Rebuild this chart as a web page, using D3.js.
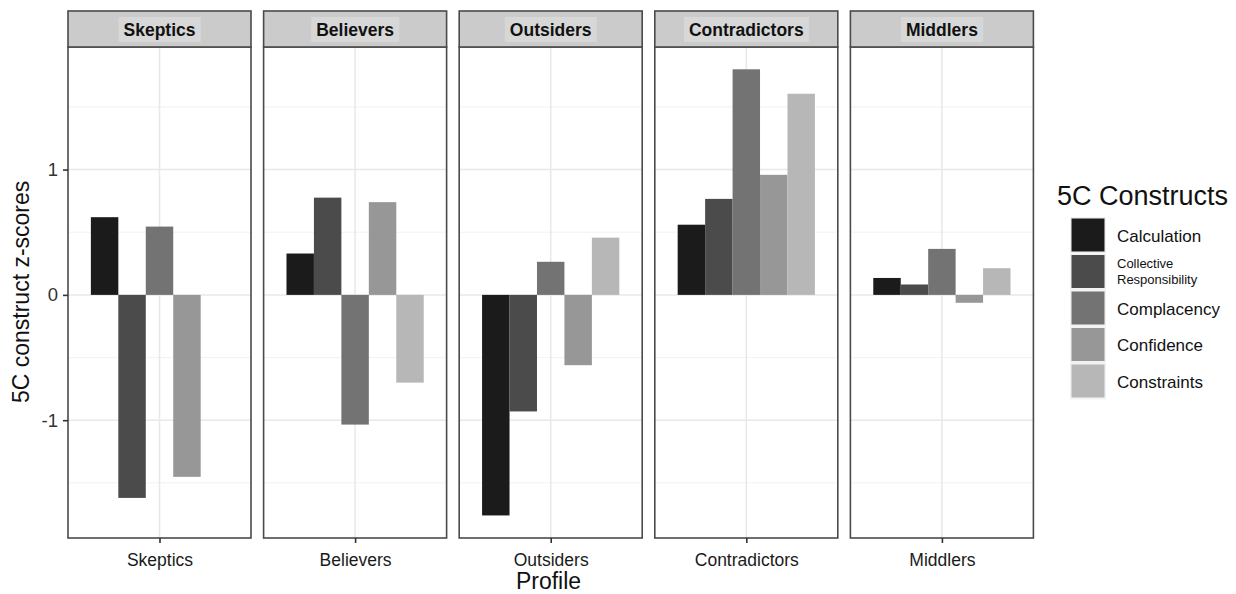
<!DOCTYPE html>
<html>
<head>
<meta charset="utf-8">
<script src="https://cdn.jsdelivr.net/npm/d3@7"></script>
<style>
  html, body { margin: 0; padding: 0; background: #ffffff; }
  svg { display: block; font-family: "Liberation Sans", Arial, sans-serif; }
</style>
</head>
<body>
<svg id="chart" width="1236" height="594"></svg>
<script>
// ---- data ----
const profiles = ["Skeptics", "Believers", "Outsiders", "Contradictors", "Middlers"];
const constructs = ["Calculation", "Collective Responsibility", "Complacency", "Confidence", "Constraints"];
const calculation = [0.62, 0.33, -1.76, 0.56, 0.135];
const collectiveResponsibility = [-1.62, 0.776, -0.93, 0.766, 0.083];
const complacency = [0.545, -1.035, 0.264, 1.80, 0.367];
const confidence = [-1.452, 0.74, -0.561, 0.958, -0.063];
const constraints = [0, -0.70, 0.457, 1.605, 0.213];
const yTicks = [-1, 0, 1];
const yMinor = [-1.5, -0.5, 0.5, 1.5];
const fillColors = ["#1b1b1b", "#4b4b4b", "#737373", "#979797", "#b7b7b7"];

const seriesValues = [calculation, collectiveResponsibility, complacency, confidence, constraints];

// ---- layout ----
const svg = d3.select("#chart");
const panelLeft0 = 68, panelStep = 195.6, panelW = 183;
const stripTop = 11, stripBottom = 47, plotBottom = 538;

const y = d3.scaleLinear().domain([-1.94, 1.978]).range([plotBottom, stripBottom]);
const panelX = d3.scaleBand().domain(profiles)
  .range([panelLeft0, panelLeft0 + panelStep * (profiles.length - 1) + panelW])
  .paddingInner((panelStep - panelW) / panelStep).paddingOuter(0).align(0);

profiles.forEach((p, i) => {
  const left = panelX(p);
  const g = svg.append("g");
  const xc = d3.scaleLinear().domain([0.4, 1.6]).range([left, left + panelW]);
  const dodge = d3.scaleBand().domain(constructs).range([xc(0.55), xc(1.45)]).padding(0);

  g.append("rect").attr("x", left).attr("y", stripBottom).attr("width", panelW)
    .attr("height", plotBottom - stripBottom).attr("fill", "#ffffff");
  g.selectAll(".minor").data(yMinor).join("line")
    .attr("x1", left).attr("x2", left + panelW)
    .attr("y1", d => y(d)).attr("y2", d => y(d))
    .attr("stroke", "#efefef").attr("stroke-width", 0.8);
  g.selectAll(".major").data(yTicks).join("line")
    .attr("x1", left).attr("x2", left + panelW)
    .attr("y1", d => y(d)).attr("y2", d => y(d))
    .attr("stroke", "#e8e8e8").attr("stroke-width", 1.5);
  g.append("line").attr("x1", xc(1)).attr("x2", xc(1))
    .attr("y1", stripBottom).attr("y2", plotBottom)
    .attr("stroke", "#e8e8e8").attr("stroke-width", 1.5);

  g.selectAll(".bar").data(constructs.map((c, k) => ({ c, k, v: seriesValues[k][i] })))
    .join("rect")
    .attr("x", d => dodge(d.c))
    .attr("width", dodge.bandwidth())
    .attr("y", d => y(Math.max(0, d.v)))
    .attr("height", d => Math.abs(y(d.v) - y(0)))
    .attr("fill", d => fillColors[d.k]);

  g.append("rect").attr("x", left).attr("y", stripBottom).attr("width", panelW)
    .attr("height", plotBottom - stripBottom)
    .attr("fill", "none").attr("stroke", "#4a4a4a").attr("stroke-width", 1.6);

  g.append("rect").attr("x", left).attr("y", stripTop).attr("width", panelW)
    .attr("height", stripBottom - stripTop)
    .attr("fill", "#cbcbcb").attr("stroke", "#4a4a4a").attr("stroke-width", 1.6);
  const label = g.append("text").attr("x", left + panelW / 2).attr("y", 35.5)
    .attr("text-anchor", "middle").attr("font-weight", "bold")
    .attr("font-size", "17.5px").attr("fill", "#111").text(p);
  const bb = label.node().getBBox();
  g.insert("rect", "text").attr("x", bb.x - 5).attr("y", 17)
    .attr("width", bb.width + 10).attr("height", 25).attr("fill", "#d7d7d7");

  const xAxis = d3.axisBottom(d3.scalePoint().domain([p]).range([xc(1), xc(1)]))
    .tickSize(5).tickPadding(6);
  const ax = g.append("g").attr("transform", `translate(0,${plotBottom})`).call(xAxis);
  ax.select(".domain").remove();
  ax.selectAll("line").attr("stroke", "#333").attr("stroke-width", 1.6);
  ax.selectAll("text").attr("font-size", "17.5px").attr("fill", "#1a1a1a")
    .attr("font-family", "Liberation Sans, Arial, sans-serif").attr("dy", "0.95em");
});

// y axis
const yAxis = d3.axisLeft(y).tickValues(yTicks).tickFormat(d => String(d)).tickSize(5).tickPadding(5);
const ya = svg.append("g").attr("transform", `translate(${panelLeft0},0)`).call(yAxis);
ya.select(".domain").remove();
ya.selectAll("line").attr("stroke", "#333").attr("stroke-width", 1.6);
ya.selectAll("text").attr("font-size", "18.5px").attr("fill", "#333")
  .attr("font-family", "Liberation Sans, Arial, sans-serif");

// axis titles
svg.append("text").attr("transform", `translate(29,${y(0) - 3}) rotate(-90)`)
  .attr("text-anchor", "middle").attr("font-size", "23px").attr("fill", "#111")
  .text("5C construct z-scores");
svg.append("text").attr("x", 548.5).attr("y", 589)
  .attr("text-anchor", "middle").attr("font-size", "23px").attr("fill", "#111")
  .text("Profile");

// legend
const lg = svg.append("g");
lg.append("text").attr("x", 1057).attr("y", 205).attr("font-size", "27px").attr("fill", "#111")
  .text("5C Constructs");
const keyY = d3.scaleBand().domain(constructs).range([217, 217 + 36.5 * 5]).padding(0);
constructs.forEach((c, k) => {
  const ky = keyY(c);
  lg.append("rect").attr("x", 1070).attr("y", ky).attr("width", 36).attr("height", 36.5)
    .attr("fill", "#f2f2f2");
  lg.append("rect").attr("x", 1071.5).attr("y", ky + 1.5).attr("width", 33).attr("height", 33)
    .attr("fill", fillColors[k]);
  const cy = ky + 36.5 / 2;
  if (c === "Collective Responsibility") {
    lg.append("text").attr("x", 1117).attr("y", cy - 4).attr("font-size", "13px").attr("fill", "#111")
      .text("Collective");
    lg.append("text").attr("x", 1117).attr("y", cy + 12).attr("font-size", "13px").attr("fill", "#111")
      .text("Responsibility");
  } else {
    lg.append("text").attr("x", 1117).attr("y", cy + 6.5).attr("font-size", "17px").attr("fill", "#111")
      .text(c);
  }
});
</script>
</body>
</html>
